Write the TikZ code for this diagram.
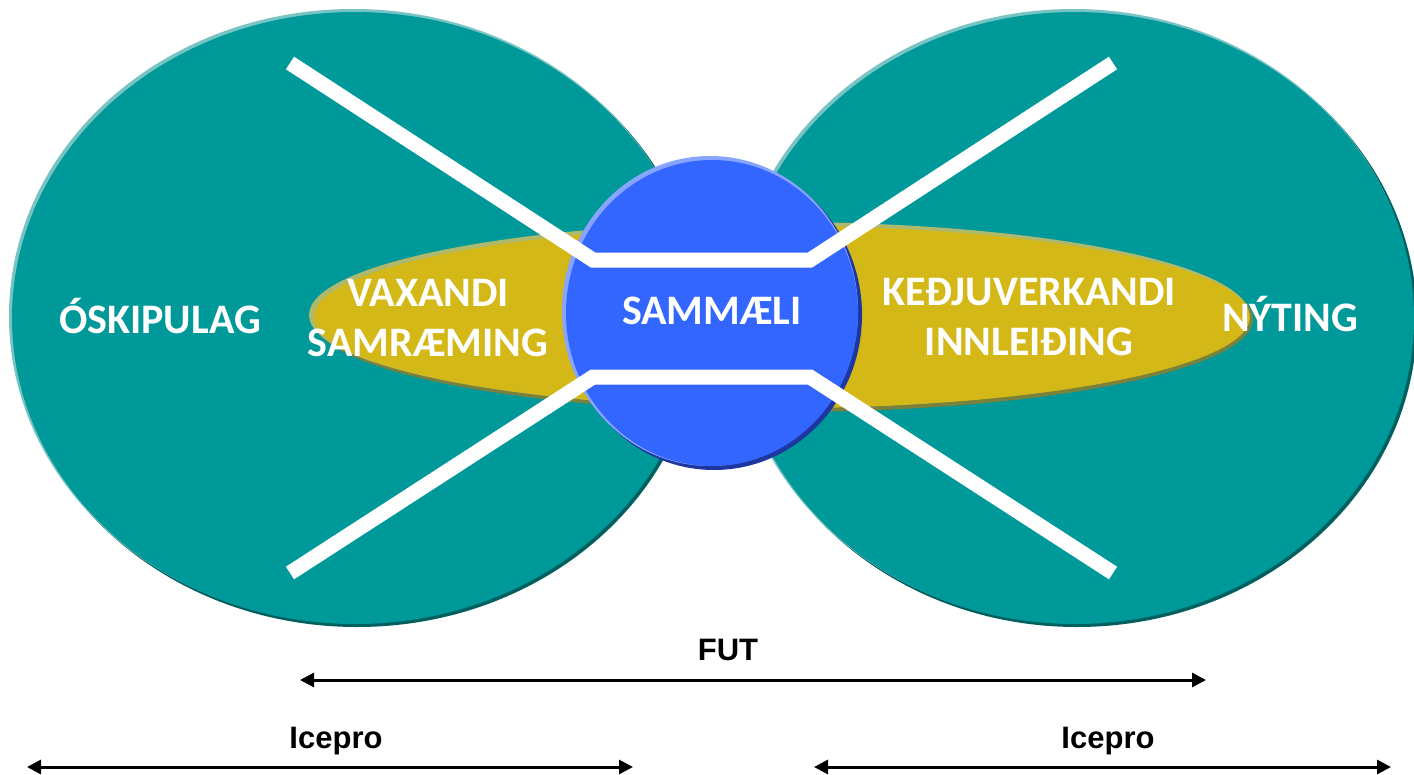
\documentclass[tikz,border=0pt]{standalone}
\usepackage{fontspec}
\usetikzlibrary{arrows.meta,shapes.geometric}
\newfontfamily\labelfont{Carlito}
\newfontfamily\arialfont{Liberation Sans}
\definecolor{tealc}{RGB}{0,153,153}
\definecolor{teallight}{RGB}{120,195,195}
\definecolor{tealdark}{RGB}{0,95,95}
\definecolor{goldc}{RGB}{212,184,24}
\definecolor{goldlight}{RGB}{175,185,110}
\definecolor{golddark}{RGB}{120,130,60}
\definecolor{bluec}{RGB}{51,102,255}
\definecolor{bluelight}{RGB}{135,165,255}
\definecolor{bluedark}{RGB}{30,55,160}
\tikzset{
  oval/.style={ellipse, inner sep=0pt, draw=none},
  wlabel/.style={text=white, align=center, font=\labelfont\bfseries\fontsize{42}{50}\selectfont},
  blabel/.style={text=black, font=\arialfont\bfseries\fontsize{31}{36}\selectfont},
  wline/.style={draw=white, line width=15pt, miter limit=10, line join=miter},
  spanarrow/.style={draw=black, line width=3pt, {Triangle[length=14pt,width=14pt]}-{Triangle[length=14pt,width=14pt]}},
}
\begin{document}
\begin{tikzpicture}[x=1pt,y=-1pt]
\useasboundingbox (0,0) rectangle (1414,774);
% left teal ellipse
\node[oval, fill=tealdark, minimum width=688pt, minimum height=614pt] at (357,320) {};
\node[oval, fill=teallight, minimum width=688pt, minimum height=614pt] at (353,316) {};
\node[oval, fill=tealc, minimum width=686pt, minimum height=612pt] (leftoval) at (355,318) {};
% right teal ellipse
\node[oval, fill=tealdark, minimum width=680pt, minimum height=614pt] at (1077,320) {};
\node[oval, fill=teallight, minimum width=680pt, minimum height=614pt] at (1073,316) {};
\node[oval, fill=tealc, minimum width=678pt, minimum height=612pt] (rightoval) at (1075,318) {};
% gold ellipse
\node[oval, fill=golddark, minimum width=940pt, minimum height=186pt] at (783,319) {};
\node[oval, fill=goldlight, minimum width=940pt, minimum height=186pt] at (779,315) {};
\node[oval, fill=goldc, minimum width=936pt, minimum height=182pt] (goldoval) at (782,317) {};
% blue circle
\node[oval, fill=bluedark, minimum width=296pt, minimum height=310pt] at (714,315) {};
\node[oval, fill=bluelight, minimum width=296pt, minimum height=310pt] at (710,311) {};
\node[oval, fill=bluec, minimum width=292pt, minimum height=306pt] (bluecircle) at (712,313) {};
% white lines
\coordinate (tl) at (290,63);
\coordinate (tlc) at (593,260);
\coordinate (trc) at (810,260);
\coordinate (tr) at (1113,63);
\coordinate (bl) at (290,573);
\coordinate (blc) at (593,377);
\coordinate (brc) at (810,377);
\coordinate (br) at (1113,573);
\draw[wline] (tl) -- (tlc) -- (trc) -- (tr);
\draw[wline] (bl) -- (blc) -- (brc) -- (br);
% labels
\node[wlabel] (oskip) at (160,316) {ÓSKIPULAG};
\node[wlabel] (vax) at (428,318) {VAXANDI\\SAMRÆMING};
\node[wlabel] (samm) at (712,311) {SAMMÆLI};
\node[wlabel] (kedju) at (1029,317) {KEÐJUVERKANDI\\INNLEIÐING};
\node[wlabel] (nyt) at (1290,314) {NÝTING};
% bottom spans
\node[blabel] (fut) at (728,650) {FUT};
\node[blabel] (ice1) at (336,741) {Icepro};
\node[blabel] (ice2) at (1108,741) {Icepro};
\coordinate (futL) at (300,680);
\coordinate (futR) at (1206,680);
\coordinate (i1L) at (27,767);
\coordinate (i1R) at (633,767);
\coordinate (i2L) at (814,767);
\coordinate (i2R) at (1391,767);
\draw[spanarrow] (futL) -- (futR);
\draw[spanarrow] (i1L) -- (i1R);
\draw[spanarrow] (i2L) -- (i2R);
\end{tikzpicture}
\end{document}
